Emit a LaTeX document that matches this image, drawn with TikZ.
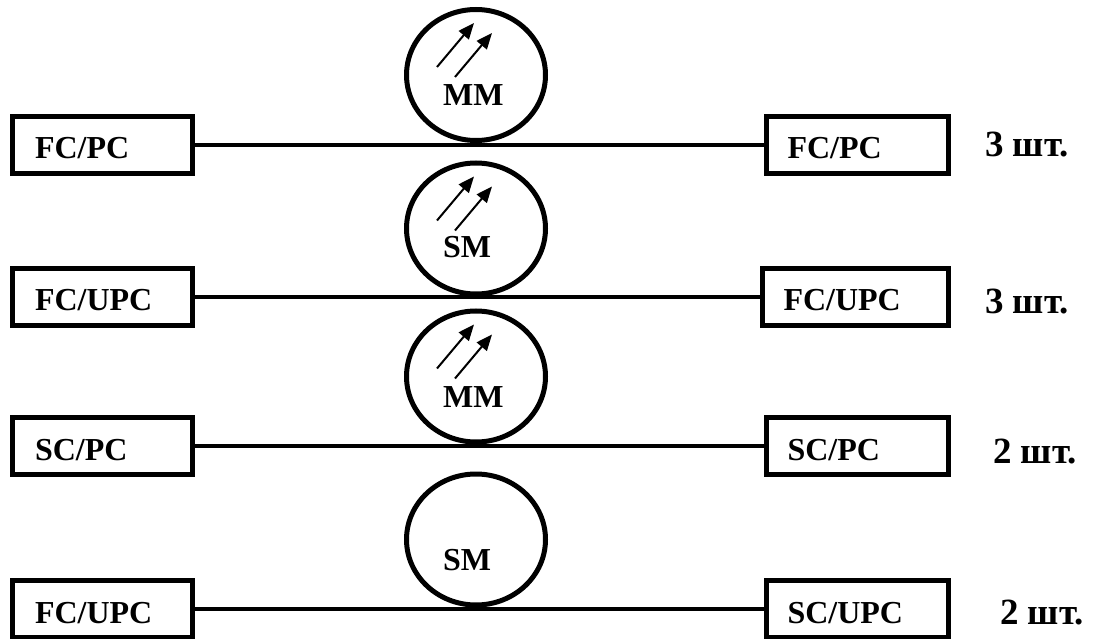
\documentclass[tikz,border=0pt]{standalone}
\usepackage{fontspec}
\setmainfont{Liberation Serif}
\usetikzlibrary{arrows.meta,shapes.geometric}
\begin{document}
\begin{tikzpicture}[x=1pt,y=-1pt,
  lbl/.style={font=\fontsize{32}{37}\selectfont\bfseries},
  box/.style={lbl,draw,line width=5pt,rectangle,inner xsep=22.5pt,inner ysep=0pt,
    minimum height=57pt,align=left,text height=28pt,text depth=0pt},
  rbox/.style={box,inner xsep=21pt},
  ring/.style={draw,ellipse,line width=5pt,minimum width=139pt,minimum height=131pt,inner sep=0pt},
  fiber/.style={line width=4pt},
  ray/.style={line width=2pt,-{Triangle[length=16pt,width=13pt]}},
  txt/.style={lbl,inner sep=0pt,anchor=base west},
  qty/.style={txt,font=\fontsize{37}{42}\selectfont\bfseries}]
\useasboundingbox (0,0) rectangle (1093,639);
% boxes
\node[box,text width=135pt] (L1) at (102.5,145) {FC/PC};
\node[rbox,text width=140pt] (R1) at (857.5,145) {FC/PC};
\node[box,text width=135pt] (L2) at (102.5,297) {FC/UPC};
\node[rbox,text width=144pt] (R2) at (855.5,297) {FC/UPC};
\node[box,text width=135pt] (L3) at (102.5,446) {SC/PC};
\node[rbox,text width=140pt] (R3) at (857.5,446) {SC/PC};
\node[box,text width=135pt] (L4) at (102.5,609) {FC/UPC};
\node[rbox,text width=140pt] (R4) at (857.5,609) {SC/UPC};
% fibers
\draw[fiber] (L1) -- (R1);
\draw[fiber] (L2) -- (R2);
\draw[fiber] (L3) -- (R3);
\draw[fiber] (L4) -- (R4);
% circles
\node[ring] (C1) at (476,75) {};
\node[ring] (C2) at (476,228.5) {};
\node[ring] (C3) at (476,376.5) {};
\node[ring] (C4) at (476,539.5) {};
\node[txt] (T1) at (443,106) {MM};
\node[txt] (T2) at (443,258) {SM};
\node[txt] (T3) at (443,407) {MM};
\node[txt] (T4) at (443,570) {SM};
% arrows
\foreach \c in {C1,C2,C3}{
  \draw[ray] ([shift={(-39,-8)}]\c.center) -- ([shift={(-2,-52)}]\c.center);
  \draw[ray] ([shift={(-21,2)}]\c.center) -- ([shift={(16,-42)}]\c.center);
}
% quantities
\node[qty] (Q1) at (985,157) {3 шт.};
\node[qty] (Q2) at (985,313) {3 шт.};
\node[qty] (Q3) at (993,463) {2 шт.};
\node[qty] (Q4) at (1000,624) {2 шт.};
\end{tikzpicture}
\end{document}
